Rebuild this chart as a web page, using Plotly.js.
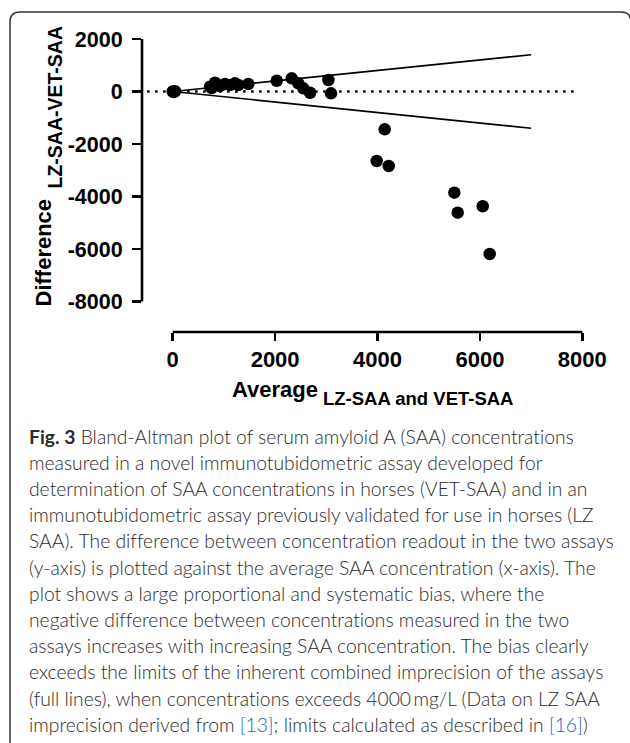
<!DOCTYPE html>
<html>
<head>
<meta charset="utf-8">
<script src="https://cdn.plot.ly/plotly-3.0.1.min.js"></script>
<style>html,body{margin:0;padding:0;background:#fff;}#chart{width:630px;height:743px;}
#chart text{font-variant-ligatures:none;font-feature-settings:"liga" 0,"clig" 0;}</style>
</head>
<body>
<div id="chart"></div>
<script>
// ---- data ----
const avgSAA = [0, 20, 45, 729, 760, 826, 924, 1021, 1119, 1217, 1282, 1477, 2031, 2324, 2454, 2551, 2682, 3040, 3092, 3984, 4140, 4219, 5500, 5566, 6055, 6191];
const diffSAA = [0, -20, 10, 183, 130, 335, 210, 286, 248, 312, 248, 286, 411, 503, 312, 122, -46, 438, -69, -2648, -1440, -2838, -3855, -4617, -4373, -6190];
const limitX = [0, 7000];
const limitUpper = [0, 1400];
const limitLower = [0, -1400];
const zeroX = [-500, 7900];
const zeroY = [0, 0];
const xTicks = [0, 2000, 4000, 6000, 8000];
const xTickLabels = ['0', '2000', '4000', '6000', '8000'];
const yTicks = [-8000, -6000, -4000, -2000, 0, 2000];
const yTickLabels = ['-8000', '-6000', '-4000', '-2000', '0', '2000'];
const captionLines = [
  '<b>Fig. 3</b> Bland-Altman plot of serum amyloid A (SAA) concentrations',
  'measured in a novel immunotubidometric assay developed for',
  'determination of SAA concentrations in horses (VET-SAA) and in an',
  'immunotubidometric assay previously validated for use in horses (LZ',
  'SAA). The difference between concentration readout in the two assays',
  '(y-axis) is plotted against the average SAA concentration (x-axis). The',
  'plot shows a large proportional and systematic bias, where the',
  'negative difference between concentrations measured in the two',
  'assays increases with increasing SAA concentration. The bias clearly',
  'exceeds the limits of the inherent combined imprecision of the assays',
  '(full lines), when concentrations exceeds 4000\u2009mg/L (Data on LZ SAA',
  'imprecision derived from <span style="color:#2457c5">[13]</span>; limits calculated as described in <span style="color:#2457c5">[16]</span>)'
];

// ---- layout helpers (pixel -> paper) ----
const W = 630, H = 743;
const L = 142, R = 590, T = 39, B = 332;
const px = v => (v - L) / (R - L);
const py = v => (B - v) / (B - T);

const bold = {family: 'Liberation Sans, Arial, sans-serif', color: '#000', weight: 700};

const traces = [
  {x: zeroX, y: zeroY, mode: 'lines', line: {color: '#000', width: 2.5, dash: '2.5px,5.5px'}, hoverinfo: 'skip'},
  {x: limitX, y: limitUpper, mode: 'lines', line: {color: '#000', width: 1.6}, hoverinfo: 'skip'},
  {x: limitX, y: limitLower, mode: 'lines', line: {color: '#000', width: 1.6}, hoverinfo: 'skip'},
  {x: avgSAA, y: diffSAA, mode: 'markers', marker: {color: '#000', size: 12.5}, cliponaxis: false}
];

const annotations = [
  {text: 'Difference', x: px(43), y: py(252.5), textangle: -90, font: Object.assign({size: 22}, bold)},
  {text: 'LZ-SAA-VET-SAA', x: px(54), y: py(107.5), textangle: -90, font: Object.assign({size: 19.5}, bold)},
  {text: 'Average', x: px(230), y: py(389), xanchor: 'left', font: Object.assign({size: 22}, bold)},
  {text: 'LZ-SAA and VET-SAA', x: px(321), y: py(398.3), xanchor: 'left', font: Object.assign({size: 18.5}, bold)}
].map(a => Object.assign({xref: 'paper', yref: 'paper', showarrow: false, yanchor: 'middle', xanchor: a.xanchor || 'center'}, a));

captionLines.forEach((t, i) => {
  annotations.push({
    text: t, xref: 'paper', yref: 'paper', x: px(27), y: py(436 + i * 26.2),
    xanchor: 'left', yanchor: 'middle', showarrow: false, align: 'left',
    font: {family: 'Lato, Open Sans, sans-serif', size: 19.3, color: '#2b2b2b', weight: 300}
  });
});

const frame = `M ${px(10)} ${py(760)} L ${px(10)} ${py(22)} Q ${px(10)} ${py(12)} ${px(20)} ${py(12)} L ${px(621)} ${py(12)} Q ${px(631)} ${py(12)} ${px(631)} ${py(22)} L ${px(631)} ${py(760)}`;

const shapes = [
  {type: 'line', xref: 'paper', yref: 'y', x0: 0, x1: 0, y0: -8000, y1: 2000, line: {color: '#000', width: 2.6}},
  {type: 'line', xref: 'x', yref: 'paper', x0: 0, x1: 8000, y0: 0, y1: 0, line: {color: '#000', width: 2.6}},
  {type: 'path', xref: 'paper', yref: 'paper', path: frame, line: {color: '#333', width: 1.5}}
];

const layout = {
  width: W, height: H,
  margin: {l: L, r: W - R, t: T, b: H - B, pad: 0},
  paper_bgcolor: '#fff', plot_bgcolor: '#fff',
  showlegend: false,
  xaxis: {range: [-600, 8150], showgrid: false, zeroline: false, showline: false,
    tickmode: 'array', tickvals: xTicks, ticktext: xTickLabels, ticks: 'outside', ticklen: 8, tickwidth: 2.6, tickcolor: '#000',
    tickfont: Object.assign({size: 22}, bold), ticklabelstandoff: 0},
  yaxis: {range: [-9162, 2000], showgrid: false, zeroline: false, showline: false,
    tickmode: 'array', tickvals: yTicks, ticktext: yTickLabels, ticks: 'outside', ticklen: 9, tickwidth: 2.6, tickcolor: '#000',
    tickfont: Object.assign({size: 21.5}, bold), ticklabelstandoff: 5},
  shapes: shapes,
  annotations: annotations
};

Plotly.newPlot('chart', traces, layout, {staticPlot: true, displayModeBar: false});
</script>
</body>
</html>
